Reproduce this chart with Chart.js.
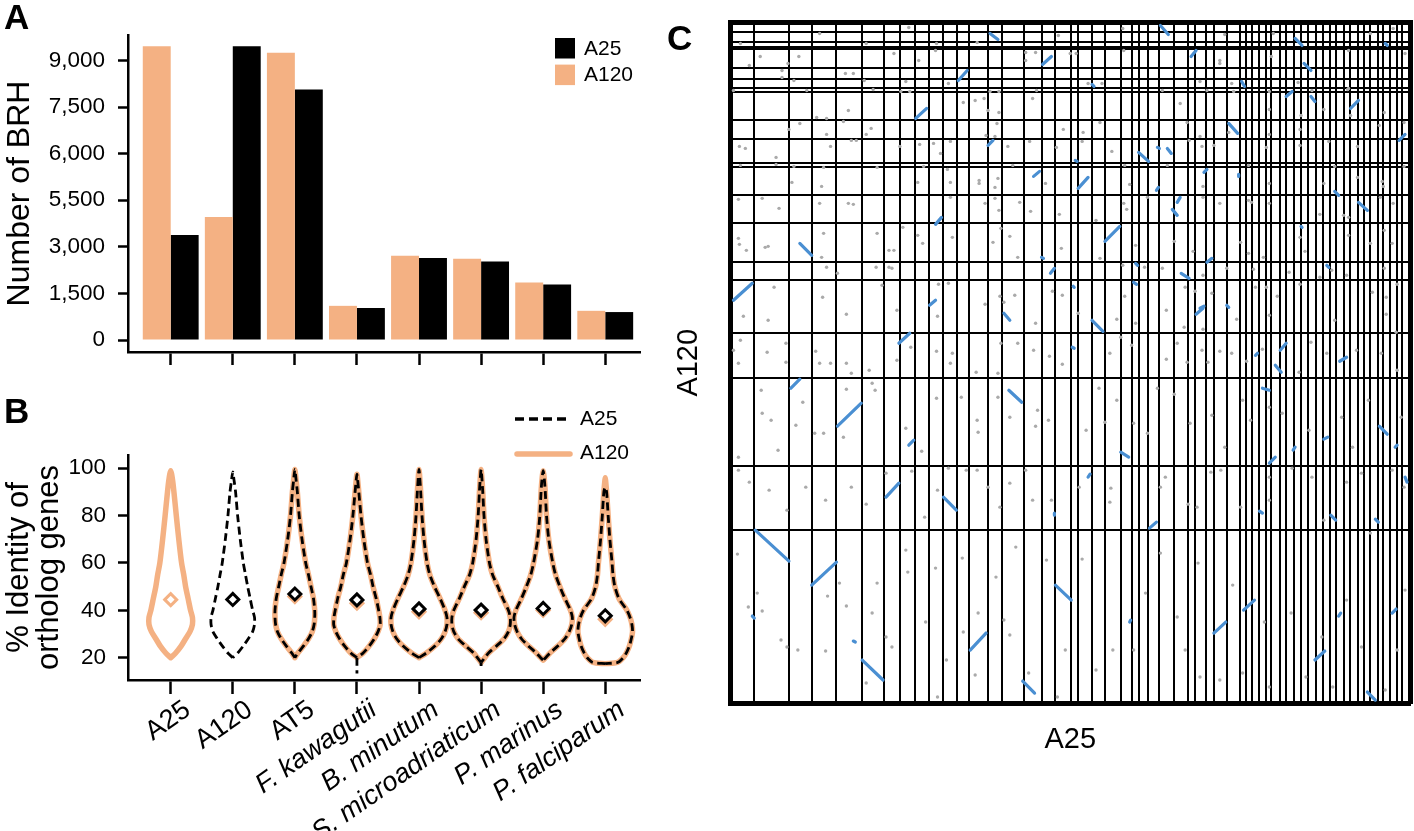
<!DOCTYPE html>
<html>
<head>
<meta charset="utf-8">
<script src="https://cdn.jsdelivr.net/npm/chart.js@4.4.1/dist/chart.umd.min.js"></script>
<style>
html,body{margin:0;padding:0;background:#fff;width:1414px;height:831px;overflow:hidden;}
canvas{position:absolute;}
#cA{left:0;top:0;}
#cB{left:0;top:385px;}
#cC{left:660px;top:0;}
.lbl{position:absolute;font:bold 35px "Liberation Sans",Arial,Helvetica,sans-serif;line-height:34px;color:#000;}
</style>
</head>
<body>
<canvas id="cA" width="660" height="385"></canvas>
<canvas id="cB" width="660" height="446"></canvas>
<canvas id="cC" width="754" height="831"></canvas>
<div class="lbl" style="left:4px;top:0px;">A</div>
<div class="lbl" style="left:4px;top:394px;">B</div>
<div class="lbl" style="left:667px;top:21px;">C</div>
<script>
// ---------------- DATA ----------------
const categories = ['A25','A120','AT5','F. kawagutii','B. minutum','S. microadriaticum','P. marinus','P. falciparum'];

// Panel A: number of best reciprocal hits
const brhA25  = [3380, 9460, 8070, 1030, 2640, 2530, 1790, 900];
const brhA120 = [9460, 3960, 9250, 1100, 2710, 2615, 1850, 940];
const brhTickValues = [0, 1500, 3000, 4500, 6000, 7500, 9000];
const brhTickLabels = ['0', '1,500', '3,000', '5,500', '6,000', '7,500', '9,000'];

// Panel B: % identity of ortholog genes (violin outlines: half-width per identity level)
const identityTicks = [20, 40, 60, 80, 100];
const identityLevels = [18, 20, 22, 25, 28, 31, 34, 37, 40, 45, 50, 55, 60, 70, 80, 90, 95];
const violinHalfWidths = [
  [0,0,0.08,0.17,0.24,0.31,0.35,0.35,0.32,0.28,0.24,0.21,0.175,0.13,0.09,0.052,0.03],
  [0,0,0.08,0.17,0.25,0.32,0.35,0.35,0.32,0.28,0.24,0.205,0.17,0.12,0.078,0.045,0.02],
  [0,0,0.05,0.14,0.22,0.28,0.31,0.32,0.32,0.30,0.26,0.22,0.175,0.115,0.07,0.04,0.02],
  [0,0,0.10,0.20,0.28,0.34,0.375,0.37,0.35,0.31,0.26,0.22,0.17,0.11,0.065,0.03,0.012],
  [0,0,0.12,0.26,0.36,0.42,0.45,0.45,0.42,0.34,0.25,0.175,0.13,0.08,0.048,0.027,0.015],
  [0,0.06,0.12,0.25,0.37,0.44,0.47,0.47,0.44,0.35,0.27,0.185,0.135,0.08,0.047,0.027,0.015],
  [0,0.04,0.11,0.24,0.35,0.42,0.46,0.47,0.44,0.35,0.27,0.20,0.155,0.09,0.054,0.034,0.02],
  [0.20,0.29,0.34,0.39,0.42,0.44,0.43,0.40,0.35,0.22,0.155,0.125,0.11,0.075,0.047,0.022,0.005]
];
const identityBottomA120 = [20, null, 20, 20, 20, 18, 19, 17.5];
const identityTopA120    = [99, null, 99.5, 97.5, 99.5, 99.5, 99, 96];
const identityBottomA25  = [null, 20, 20, 20, 20, 18, 19, 17.5];
const identityTopA25     = [null, 98.5, 99.5, 97.5, 99.5, 99.5, 99, 92];
const identityTailA25    = [null, null, null, 13.3, null, 16.5, null, null];
const identityMeanA120   = [44.5, null, 45.8, 43, 39.4, 39, 40, 36.2];
const identityMeanA25    = [null, 44.6, 46.9, 44.4, 40.6, 40.1, 40.8, 37.7];

// Panel C: dot plot A25 (x) vs A120 (y), positions in plot units
const a25ScaffoldBreaks = [24,59,82,107,133,155,171,186,200,215,229,241,260,274,296,314,328,344,351,365,378,394,405,412,421,433,448,462,469,480,488,501,514,520,526,534,541,546,555,561,569,576,583,591,598,605,611,619,625,633,640,646,654,659,666,673,678];
const a120ScaffoldBreaks = [12,22,28,48,59,68,72,100,119,143,147,175,203,242,260,313,358,446,510];
const syntenyBlocks = [
 [262,13,270,19],[434,5,442,14],[570,18,577,25],[661,23,663,25],[315,44,324,36],[465,36,470,30],
 [230,60,239,50],[579,43,586,50],[365,64,367,66],[516,61,519,66],[561,76,567,71],[586,76,590,81],
 [626,88,634,80],[187,98,198,88],[503,103,512,113],[675,120,681,114],[260,125,265,120],[412,132,422,141],
 [431,127,433,128],[441,128,445,133],[348,140,350,141],[306,156,312,151],[351,168,361,157],[478,152,481,149],
 [513,154,513,156],[430,170,432,167],[451,182,454,177],[610,171,614,175],[634,182,643,190],[446,189,451,195],
 [207,204,213,197],[378,221,393,206],[70,223,82,235],[576,206,577,207],[314,237,316,238],[323,253,327,248],
 [455,253,463,258],[481,242,486,238],[602,245,604,247],[3,280,22,263],[201,285,207,280],[346,266,347,267],
 [407,262,410,264],[474,288,478,286],[501,285,503,287],[409,243,411,245],[276,293,282,300],[365,300,376,311],
 [470,294,477,288],[170,323,181,313],[345,327,347,328],[555,330,561,323],[530,335,532,333],[550,345,556,352],
 [615,341,622,337],[537,368,544,370],[61,368,70,359],[108,406,132,383],[281,370,294,382],[180,425,185,420],
 [394,432,402,437],[655,406,663,414],[599,419,603,417],[568,430,570,427],[544,443,550,437],[671,427,673,425],
 [157,477,170,463],[215,477,228,490],[361,457,363,454],[327,493,327,495],[423,508,430,502],[534,491,537,493],
 [606,495,611,500],[651,499,654,502],[681,457,683,462],[25,510,59,541],[82,565,107,542],[22,596,24,598],
 [328,565,344,580],[124,621,126,622],[133,640,154,660],[242,630,258,613],[295,661,307,673],[403,602,404,600],
 [488,613,500,602],[518,590,529,580],[590,640,600,631],[614,596,616,593],[668,593,672,589],[643,672,651,680]
];
const scatteredHits = [
 [180,7],[10,23],[90,13],[137,23],[208,23],[249,22],[331,15],[396,8],[499,14],[548,13],[646,13],[669,8],
 [30,36],[69,36],[58,43],[165,33],[190,40],[207,30],[298,32],[308,32],[298,40],[343,33],[349,33],[397,30],
 [494,40],[494,43],[546,36],[624,30],[681,33],[19,45],[52,50],[116,53],[124,53],[52,57],[135,60],[64,60],
 [177,61],[220,63],[361,63],[375,63],[474,61],[506,63],[573,62],[624,68],[3,70],[77,70],[144,69],[172,71],
 [181,71],[262,71],[271,71],[309,70],[436,70],[481,70],[508,71],[544,71],[587,70],[623,69],[119,90],[235,82],
 [247,80],[256,78],[260,90],[271,92],[305,78],[454,83],[544,89],[626,95],[660,92],[599,89],[576,95],[87,97],
 [97,98],[114,101],[59,109],[70,103],[97,114],[137,114],[142,108],[269,103],[267,116],[258,115],[336,109],
 [356,112],[373,102],[461,102],[474,116],[503,112],[544,114],[575,109],[655,105],[680,102],[9,126],[15,128],
 [46,137],[101,126],[122,120],[127,120],[171,126],[191,124],[205,123],[212,133],[222,121],[280,126],[302,121],
 [329,127],[355,121],[385,131],[463,120],[488,125],[476,126],[541,127],[575,125],[604,121],[633,126],[10,145],
 [46,144],[64,146],[94,147],[148,147],[195,146],[219,149],[285,145],[398,145],[441,145],[523,145],[610,146],
 [680,146],[62,162],[92,166],[189,162],[222,162],[251,160],[251,163],[267,167],[270,158],[318,163],[403,164],
 [477,166],[544,163],[599,163],[658,161],[659,166],[633,157],[8,179],[32,178],[49,188],[90,183],[119,183],
 [124,184],[222,177],[257,183],[267,178],[271,190],[292,182],[303,191],[332,194],[369,200],[397,183],[400,189],
 [421,177],[477,177],[494,183],[523,180],[526,182],[544,183],[595,194],[619,195],[624,197],[656,177],[669,183],
 [8,218],[9,224],[16,230],[35,227],[38,226],[94,213],[92,237],[148,213],[160,230],[165,230],[174,207],[189,215],
 [194,223],[224,217],[265,222],[273,208],[282,216],[290,237],[334,228],[373,238],[409,225],[448,221],[467,231],
 [515,222],[523,233],[538,237],[575,217],[580,231],[607,250],[624,215],[646,223],[660,210],[668,223],[97,247],
 [108,253],[147,247],[160,247],[163,248],[396,245],[418,247],[436,248],[477,255],[501,248],[528,249],[564,252],
 [595,257],[622,255],[660,248],[44,267],[93,277],[153,265],[210,264],[220,263],[257,284],[272,276],[276,282],
 [287,275],[325,271],[335,275],[398,276],[459,267],[469,271],[486,273],[552,276],[575,264],[648,272],[662,277],
 [673,264],[541,267],[530,267],
 [13,296],[38,300],[117,294],[168,290],[209,296],[308,303],[351,293],[390,299],[409,303],[440,290],[458,307],
 [477,309],[511,299],[544,295],[610,300],[662,294],[672,312],[3,330],[10,320],[8,343],[37,332],[56,323],[56,342],
 [86,331],[90,343],[101,343],[117,343],[122,353],[140,350],[168,340],[182,327],[208,331],[224,333],[222,343],
 [248,352],[270,353],[273,323],[290,323],[306,330],[322,336],[335,344],[383,333],[394,317],[405,325],[440,339],
 [451,323],[461,342],[476,330],[482,342],[494,331],[506,333],[521,341],[537,329],[574,352],[586,322],[602,333],
 [632,330],[657,333],[673,350],[31,370],[32,393],[41,400],[8,437],[48,430],[66,405],[73,382],[85,413],[94,413],
 [117,369],[114,417],[143,363],[146,370],[177,408],[193,431],[208,378],[233,377],[249,400],[250,412],[270,377],
 [282,397],[310,390],[321,400],[308,406],[359,410],[372,368],[378,402],[390,380],[407,403],[421,413],[431,368],
 [448,374],[464,403],[486,395],[499,427],[517,380],[525,400],[544,387],[557,393],[584,410],[617,397],[628,427],
 [644,380],[677,397],[8,450],[19,462],[39,470],[57,490],[76,467],[96,480],[122,467],[137,484],[157,453],[183,451],
 [196,497],[209,470],[220,448],[238,450],[249,450],[260,467],[272,487],[282,463],[298,450],[305,480],[324,480],
 [352,467],[384,468],[383,482],[434,467],[439,457],[462,484],[471,487],[485,452],[495,450],[515,487],[544,457],
 [544,480],[567,448],[587,457],[599,500],[622,462],[637,453],[668,450],[680,467],[7,534],[18,587],[27,573],
 [32,591],[51,620],[57,627],[68,630],[96,631],[98,576],[110,563],[117,586],[137,663],[143,593],[148,563],[157,617],
 [163,627],[177,530],[179,552],[197,602],[207,548],[209,677],[218,640],[234,538],[235,612],[247,655],[250,593],
 [268,557],[276,600],[282,615],[288,527],[301,653],[319,540],[330,677],[338,630],[355,539],[369,650],[386,630],
 [407,630],[419,573],[434,533],[451,597],[459,630],[472,543],[474,657],[494,660],[507,565],[517,653],[539,602],
 [544,667],[566,593],[581,657],[597,617],[608,667],[622,580],[637,627],[646,513],[661,670],[673,630],[681,570]
];

// ---------------- STYLE ----------------
const FONT = '"Liberation Sans", Arial, Helvetica, sans-serif';
const ORANGE = '#F4B183';
const BLUE = '#4A8FD2';
Chart.defaults.font.family = FONT;
Chart.defaults.color = '#000';
Chart.defaults.animation = false;
Chart.defaults.devicePixelRatio = 1;

const categoryTicks = s => { s.ticks = categories.map((c, i) => ({value: i})); };

// ---------------- PANEL A ----------------
const legendA = {
  id: 'legendA',
  afterDraw(chart) {
    const ctx = chart.ctx;
    const items = [chart.data.datasets[1], chart.data.datasets[0]];
    ctx.save();
    items.forEach((ds, i) => {
      const y = 38 + i * 26.6;
      ctx.fillStyle = ds.backgroundColor;
      ctx.fillRect(555, y, 20, 20.5);
      ctx.fillStyle = '#000';
      ctx.font = '21px ' + FONT;
      ctx.textBaseline = 'middle';
      ctx.fillText(ds.label, 584, y + 11);
    });
    ctx.restore();
  }
};

new Chart(document.getElementById('cA'), {
  type: 'bar',
  data: {
    datasets: [
      {label: 'A120', data: brhA120.map((v, i) => ({x: i, y: v})), backgroundColor: ORANGE, borderWidth: 0,
       categoryPercentage: 0.9, barPercentage: 1.0},
      {label: 'A25', data: brhA25.map((v, i) => ({x: i, y: v})), backgroundColor: '#000', borderWidth: 0,
       categoryPercentage: 0.9, barPercentage: 1.0}
    ]
  },
  options: {
    responsive: false, animation: false,
    layout: {padding: {top: 35, right: 20, left: 0, bottom: 0}},
    plugins: {legend: {display: false}, tooltip: {enabled: false}},
    scales: {
      x: {
        type: 'linear', min: -0.688, max: 7.56, offset: false,
        afterBuildTicks: categoryTicks,
        ticks: {display: false},
        grid: {offset: false, drawOnChartArea: false, drawTicks: true, tickLength: 13, tickWidth: 2.5, tickColor: '#000', color: '#000'},
        border: {display: true, color: '#000', width: 2.5},
        afterFit(s) { s.height = 33; }
      },
      y: {
        min: -386, max: 9821,
        afterBuildTicks(s) { s.ticks = brhTickValues.map(v => ({value: v})); },
        ticks: {callback: (v, i) => brhTickLabels[i], font: {size: 22.5}, color: '#000', padding: 13},
        grid: {drawOnChartArea: false, drawTicks: true, tickLength: 10, tickWidth: 2.5, tickColor: '#000', color: '#000'},
        border: {display: true, color: '#000', width: 2.5},
        title: {display: true, text: 'Number of BRH', font: {size: 32}, color: '#000', padding: {top: 1, bottom: 0}},
        afterFit(s) { s.width = 128; }
      }
    }
  },
  plugins: [legendA]
});

// ---------------- PANEL B ----------------
function violinOutline(c, bottom, top, widths) {
  const pts = [{x: c, y: bottom}];
  identityLevels.forEach((lv, j) => { if (lv > bottom && lv < top) pts.push({x: c - widths[j], y: lv}); });
  pts.push({x: c, y: top});
  for (let j = identityLevels.length - 1; j >= 0; j--) {
    const lv = identityLevels[j];
    if (lv > bottom && lv < top) pts.push({x: c + widths[j], y: lv});
  }
  pts.push({x: c, y: bottom});
  return pts;
}

const bDatasets = [];
categories.forEach((cat, c) => {
  if (identityBottomA120[c] !== null) {
    bDatasets.push({type: 'scatter', label: 'A120', data: violinOutline(c, identityBottomA120[c], identityTopA120[c], violinHalfWidths[c]),
      showLine: true, borderColor: ORANGE, borderWidth: 5.5, pointRadius: 0, tension: 0.25, fill: false, order: 4,
      borderJoinStyle: 'round', borderCapStyle: 'round'});
  }
});
categories.forEach((cat, c) => {
  if (identityBottomA25[c] !== null) {
    bDatasets.push({type: 'scatter', label: 'A25', data: violinOutline(c, identityBottomA25[c], identityTopA25[c], violinHalfWidths[c]),
      showLine: true, borderColor: '#000', borderWidth: 2.8, borderDash: [8, 4.5], pointRadius: 0, tension: 0.25, fill: false, order: 3});
  }
  if (identityTailA25[c] !== null) {
    bDatasets.push({type: 'scatter', label: 'A25 tail', data: [{x: c, y: identityBottomA25[c]}, {x: c, y: identityTailA25[c]}],
      showLine: true, borderColor: '#000', borderWidth: 2.8, borderDash: [8, 4.5], pointRadius: 0, order: 3});
  }
});
bDatasets.push({type: 'scatter', label: 'mean A120',
  data: identityMeanA120.map((v, i) => v === null ? null : ({x: i, y: v})).filter(p => p),
  pointStyle: 'rectRot', pointRadius: 6, borderWidth: 3, borderColor: ORANGE, backgroundColor: '#fff', order: 2});
bDatasets.push({type: 'scatter', label: 'mean A25',
  data: identityMeanA25.map((v, i) => v === null ? null : ({x: i, y: v})).filter(p => p),
  pointStyle: 'rectRot', pointRadius: 6, borderWidth: 3, borderColor: '#000', backgroundColor: '#fff', order: 1});

const legendB = {
  id: 'legendB',
  afterDraw(chart) {
    const ctx = chart.ctx;
    ctx.save();
    ctx.lineWidth = 3.5; ctx.strokeStyle = '#000'; ctx.setLineDash([9, 5]);
    ctx.beginPath(); ctx.moveTo(515, 34); ctx.lineTo(568, 34); ctx.stroke();
    ctx.setLineDash([]); ctx.lineWidth = 5.5; ctx.strokeStyle = ORANGE; ctx.lineCap = 'round';
    ctx.beginPath(); ctx.moveTo(517, 69); ctx.lineTo(570, 69); ctx.stroke();
    ctx.fillStyle = '#000'; ctx.font = '21px ' + FONT; ctx.textBaseline = 'middle';
    ctx.fillText('A25', 580, 34); ctx.fillText('A120', 580, 68);
    ctx.restore();
  }
};

new Chart(document.getElementById('cB'), {
  type: 'scatter',
  data: {datasets: bDatasets},
  options: {
    responsive: false, animation: false,
    layout: {padding: {top: 70, right: 20, left: 0, bottom: 0}},
    plugins: {legend: {display: false}, tooltip: {enabled: false}},
    scales: {
      x: {
        type: 'linear', min: -0.688, max: 7.56,
        afterBuildTicks: categoryTicks,
        ticks: {callback: (v, i) => categories[i], autoSkip: false, minRotation: 35, maxRotation: 35, padding: 0, labelOffset: 17,
                font: ctx => ({size: 27, family: FONT, style: ctx.index >= 3 ? 'italic' : 'normal'}), color: '#000'},
        grid: {drawOnChartArea: false, drawTicks: true, tickLength: 14, tickWidth: 2.5, tickColor: '#000', color: '#000'},
        border: {display: true, color: '#000', width: 2.5},
        afterFit(s) { s.height = 151; }
      },
      y: {
        min: 10.58, max: 105.6,
        afterBuildTicks(s) { s.ticks = identityTicks.map(v => ({value: v})); },
        ticks: {font: {size: 22.5}, color: '#000', padding: 12},
        grid: {drawOnChartArea: false, drawTicks: true, tickLength: 10, tickWidth: 2.5, tickColor: '#000', color: '#000'},
        border: {display: true, color: '#000', width: 2.5},
        title: {display: true, text: ['% Identity of', 'ortholog genes'], font: {size: 31, lineHeight: 0.95}, color: '#000', padding: {top: 5, bottom: 0}},
        afterFit(s) { s.width = 128; }
      }
    }
  },
  plugins: [legendB]
});

// ---------------- PANEL C ----------------
const cDatasets = [{
  type: 'scatter', label: 'hits', data: scatteredHits.map(p => ({x: p[0], y: p[1]})),
  pointRadius: 1.7, pointBorderWidth: 0, backgroundColor: '#aaaaaa', borderColor: '#aaaaaa', order: 2
}];
syntenyBlocks.forEach(b => {
  cDatasets.push({type: 'scatter', label: 'block', data: [{x: b[0], y: b[1]}, {x: b[2], y: b[3]}],
    showLine: true, borderColor: BLUE, borderWidth: 3.2, borderCapStyle: 'round', pointRadius: 0, order: 1});
});

new Chart(document.getElementById('cC'), {
  type: 'scatter',
  data: {datasets: cDatasets},
  options: {
    responsive: false, animation: false,
    layout: {padding: {top: 22.5, right: 4, left: 0, bottom: 0}},
    plugins: {legend: {display: false}, tooltip: {enabled: false}},
    scales: {
      x: {
        type: 'linear', position: 'bottom', min: 0, max: 686,
        afterBuildTicks(s) { s.ticks = a25ScaffoldBreaks.map(v => ({value: v})); },
        ticks: {display: false},
        grid: {drawOnChartArea: true, drawTicks: false, color: '#000', lineWidth: 2},
        border: {display: true, color: '#000', width: 5},
        title: {display: true, text: 'A25', font: {size: 29}, color: '#000', padding: {top: 0, bottom: 74}},
        afterFit(s) { s.height = 128; }
      },
      y: {
        type: 'linear', position: 'left', reverse: true, min: 2, max: 683,
        afterBuildTicks(s) { s.ticks = a120ScaffoldBreaks.map(v => ({value: v})); },
        ticks: {display: false},
        grid: {drawOnChartArea: true, drawTicks: false, color: '#000',
               lineWidth: ctx => (ctx.tick && ctx.tick.value === 28) ? 4 : 2},
        border: {display: true, color: '#000', width: 5},
        title: {display: true, text: 'A120', font: {size: 29}, color: '#000', padding: {top: 12, bottom: 0}},
        afterFit(s) { s.width = 70.5; }
      },
      xTop: {
        type: 'linear', position: 'top', min: 0, max: 686, display: true,
        ticks: {display: false}, grid: {display: false, drawTicks: false},
        border: {display: true, color: '#000', width: 5},
        afterFit(s) { s.height = 0; }
      },
      yRight: {
        type: 'linear', position: 'right', min: 2, max: 683, display: true,
        ticks: {display: false}, grid: {display: false, drawTicks: false},
        border: {display: true, color: '#000', width: 5},
        afterFit(s) { s.width = 0; }
      }
    }
  }
});
</script>
</body>
</html>
